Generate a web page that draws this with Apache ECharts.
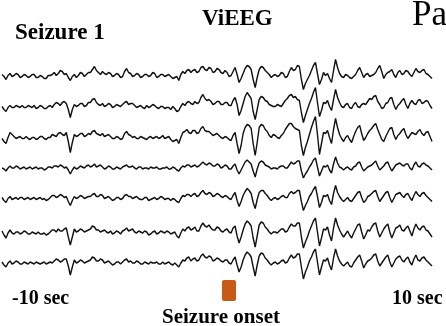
<!DOCTYPE html>
<html><head><meta charset="utf-8">
<script src="https://cdn.jsdelivr.net/npm/echarts@6/dist/echarts.min.js"></script>
<style>html,body{margin:0;padding:0;background:#fff;}#c{width:446px;height:326px;}</style>
</head><body><div id="c"></div>
<script>
// EEG amplitudes (arbitrary units, positive = up), one sample per ~0.093 s from -10 s to +10 s
const ch1 = [1,-1,-4,0,2,-1,0,2,1,-2,-1,1,0,-2,-1,1,1,-2,-2,0,
-1,-3,-3,0,0,1,3,0,2,5,4,1,2,-2,-5,-1,1,-2,0,3,
2,-1,1,3,3,6,9,5,3,1,4,2,1,3,2,-1,0,2,1,-2,
-1,4,7,3,2,-1,0,2,1,-2,-1,1,1,-1,0,3,2,-2,-1,1,
1,-1,0,1,-1,-3,-2,-1,-5,1,4,2,5,6,3,5,6,3,4,8,
9,6,5,8,7,3,4,7,6,3,2,5,3,-1,0,4,8,1,-7,-3,
2,7,10,9,6,-4,-12,-2,6,9,8,5,3,1,-2,0,1,-1,0,3,
2,-2,-1,4,8,5,6,10,9,-4,-14,-8,-4,0,5,10,13,2,-9,-4,
3,0,2,-3,-7,5,16,8,2,-1,-2,1,0,-2,-3,-1,1,5,8,3,
-2,1,2,-1,0,1,3,7,10,4,-3,1,3,4,6,1,-2,3,5,1,
2,5,4,1,-1,3,7,4,3,5,6,2,1,-1,-3];
const ch2 = [0,-3,-5,-1,1,-1,-1,1,0,-1,1,-1,-1,1,0,-1,1,-2,-1,1,
0,-2,-2,0,1,-1,2,4,3,1,4,5,3,-3,-11,-3,2,0,1,3,
3,0,1,4,4,7,8,4,2,1,3,0,1,3,2,-1,0,2,1,0,
2,4,5,2,3,3,1,-1,0,1,-1,-2,1,-1,0,2,1,-1,-2,0,
0,-2,-1,-1,-3,0,-2,-5,-4,0,3,1,4,5,3,2,5,3,4,9,
12,8,6,7,5,2,3,5,5,2,2,4,4,1,1,6,9,2,-9,-4,
3,10,14,11,8,-5,-13,-3,7,10,9,6,5,2,1,0,0,2,1,0,
3,6,8,11,12,9,10,7,6,-6,-16,-9,-3,3,8,14,19,4,-10,-4,
4,3,6,0,-4,7,17,9,4,0,-1,2,3,-1,-2,2,4,0,-1,2,
3,2,5,8,7,10,11,5,2,-2,-1,3,4,8,9,2,-3,1,3,6,
8,2,-2,3,6,3,2,6,7,3,4,6,5,1,-2];
const ch3 = [-1,-4,-6,0,5,3,1,-1,0,1,-1,-1,1,-1,-2,0,0,-2,-1,1,
1,-1,-2,0,0,3,2,1,4,5,3,2,5,-4,-15,-5,3,1,2,4,
4,1,2,4,3,6,7,4,3,2,4,1,2,3,1,-1,-1,1,0,-2,
-1,4,6,3,2,0,1,-1,-1,1,0,-1,-2,0,1,-1,0,1,-1,0,
2,-1,0,1,-2,-4,-3,-2,-6,0,5,6,8,5,4,7,7,4,5,9,
11,7,6,6,4,2,3,4,2,0,-1,1,0,-2,-3,2,5,-6,-16,-8,
4,10,13,12,9,-6,-18,-5,10,13,12,8,6,2,0,3,2,0,-1,2,
4,8,11,14,14,11,9,8,7,-8,-18,-10,-4,3,10,16,21,3,-17,-6,
5,4,7,0,-6,8,19,10,3,-1,-4,0,2,-2,-5,1,6,10,12,4,
-3,0,4,7,9,12,14,8,3,-2,-4,1,5,9,10,3,-2,2,4,7,
9,3,-1,2,5,4,3,6,8,4,2,5,6,1,-4];
const ch4 = [0,-1,-3,0,2,0,0,2,1,-1,0,1,-1,0,1,-1,0,1,-1,0,
0,-2,-1,1,1,0,2,2,1,3,2,0,1,-2,-6,-2,1,-1,0,2,
1,0,2,3,1,2,4,1,2,3,1,-1,0,2,1,-1,-1,1,0,-1,
1,2,3,1,1,2,0,-1,1,1,-1,0,0,-1,1,0,0,1,-1,-1,
0,0,1,-1,-1,1,0,-2,-3,0,2,1,3,3,1,2,3,1,2,4,
6,4,3,5,4,2,2,4,3,0,1,3,2,-1,-1,2,4,-2,-6,-2,
2,6,8,6,4,-3,-9,-1,5,7,6,3,2,1,-1,0,0,-1,1,2,
2,0,0,3,6,4,5,7,7,-3,-10,-6,-3,1,4,8,10,1,-8,-3,
2,1,3,-2,-5,4,11,5,1,0,-2,0,1,-1,-2,1,2,5,6,1,
-3,-1,1,2,3,5,7,2,-2,0,2,5,6,1,-3,0,3,4,5,3,
2,4,4,0,-2,3,6,2,1,4,5,3,2,0,-2];
const ch5 = [1,-2,-4,0,2,-1,0,1,-1,1,1,-1,0,1,-1,0,1,-1,0,1,
-1,0,-2,-1,1,3,3,1,2,4,3,1,2,-3,-7,-2,2,0,1,3,
2,0,1,2,2,4,5,2,2,4,3,0,1,2,0,-2,-1,1,1,-1,
0,3,4,2,2,0,1,2,0,-1,-1,1,1,-2,-1,0,1,-1,0,2,
1,-1,0,0,-2,0,-1,-3,-4,0,3,2,4,4,2,4,5,2,3,6,
8,5,4,6,5,2,3,5,4,2,1,3,2,0,-1,3,6,-2,-8,-3,
3,7,10,8,5,-4,-10,-1,6,8,8,5,3,0,-2,0,1,-1,0,2,
3,1,1,5,7,5,6,8,8,-3,-12,-7,-3,2,5,9,12,2,-9,-4,
3,2,4,-2,-6,5,13,6,2,-1,-3,-1,1,-2,-3,0,3,6,7,1,
-4,-2,2,3,5,7,8,2,-3,0,3,6,7,1,-4,0,4,5,6,3,
1,4,5,1,-2,3,7,4,2,5,6,3,1,-1,-3];
const ch6 = [2,-2,-5,0,3,0,-1,1,1,-1,0,2,1,-1,-1,1,0,-1,1,-1,
-1,0,-2,-1,1,3,3,1,4,2,2,4,5,-4,-12,-4,4,1,2,4,
3,1,2,3,4,7,6,3,3,1,2,3,1,0,2,-1,0,2,1,-1,
2,3,5,2,3,4,1,0,2,1,0,2,1,-2,-1,1,2,-1,0,2,
1,0,2,1,-1,0,1,-3,-5,0,4,2,5,6,3,4,6,2,2,7,
10,7,6,8,5,3,3,6,5,2,1,3,4,1,0,5,7,-3,-10,-4,
3,9,12,10,7,-5,-14,-3,8,11,10,6,4,1,-1,1,1,0,2,4,
4,1,2,6,9,7,7,10,10,-4,-15,-9,-4,2,7,12,15,1,-13,-5,
4,3,6,-2,-8,5,15,8,3,-1,-4,-1,2,-2,-5,0,4,8,9,1,
-6,-2,3,2,6,9,10,2,-4,0,4,7,9,1,-5,0,5,6,8,3,
2,5,7,2,-3,4,9,5,3,6,7,3,2,-1,-4];
const ch7 = [1,-2,-4,0,2,-1,0,2,1,-1,-1,1,0,-1,1,0,-1,1,0,-1,
0,1,-1,0,1,0,2,4,3,1,2,4,4,-3,-12,-4,3,0,1,3,
2,0,1,2,3,6,5,2,2,4,3,0,1,2,0,-2,-1,1,1,-1,
1,3,4,1,2,0,0,2,1,-1,-1,1,0,-1,1,0,0,1,-1,-1,
1,-1,0,1,-1,-2,0,-2,-4,0,3,2,5,6,2,4,5,2,3,7,
9,6,5,7,6,2,3,5,4,2,1,3,3,0,-1,3,6,-2,-9,-4,
3,8,11,9,6,-4,-13,-2,7,10,9,5,3,0,-2,0,1,-1,0,2,
3,0,1,5,8,5,6,9,9,-4,-16,-9,-4,2,6,11,14,1,-12,-4,
3,2,5,-2,-7,5,14,7,2,-1,-3,-1,1,-3,-4,0,3,6,8,2,
-5,-1,2,3,5,8,9,2,-3,0,3,6,8,1,-4,0,4,6,7,3,
1,4,6,1,-2,4,8,3,2,5,6,3,1,-1,-3];
const channels = [ch1, ch2, ch3, ch4, ch5, ch6, ch7];
const startLabel = '-10 sec';
const endLabel = '10 sec';
const onsetLabel = 'Seizure onset';

// layout (presentation only)
const offsets = [209.5, 178.5, 147.5, 117, 86.5, 52, 22];
const n = ch1.length;
const cats = Array.from({length: n}, (_, i) => i);
const chart = echarts.init(document.getElementById('c'), null, {renderer: 'canvas'});
const serif = '"Liberation Serif", "Times New Roman", serif';
chart.setOption({
  animation: false,
  grid: {left: 2, right: 14, top: 55, bottom: 41},
  xAxis: {type: 'category', data: cats, boundaryGap: false, show: false},
  yAxis: {type: 'value', min: 0, max: 230, show: false},
  series: channels.map((d, k) => ({
    type: 'line', data: d.map(v => v + offsets[k]), symbol: 'none',
    lineStyle: {color: '#111', width: 1.4}
  })),
  graphic: [
    {type: 'text', style: {x: 15, y: 33, text: 'Seizure 1', font: 'bold 23px ' + serif, fill: '#000', textVerticalAlign: 'middle'}},
    {type: 'text', style: {x: 202, y: 19.5, text: 'ViEEG', font: 'bold 23px ' + serif, fill: '#000', textVerticalAlign: 'middle'}},
    {type: 'text', style: {x: 412, y: 16, text: 'Pa', font: '35px ' + serif, fill: '#000', textVerticalAlign: 'middle'}},
    {type: 'text', style: {x: 12, y: 298.5, text: startLabel, font: 'bold 20px ' + serif, fill: '#000', textVerticalAlign: 'middle'}},
    {type: 'text', style: {x: 392, y: 298.5, text: endLabel, font: 'bold 20px ' + serif, fill: '#000', textVerticalAlign: 'middle'}},
    {type: 'text', style: {x: 162, y: 317.5, text: onsetLabel, font: 'bold 21px ' + serif, fill: '#000', textVerticalAlign: 'middle'}},
    {type: 'rect', shape: {x: 222, y: 280, width: 14, height: 21, r: 2}, style: {fill: '#c85a17'}}
  ]
});
</script></body></html>
